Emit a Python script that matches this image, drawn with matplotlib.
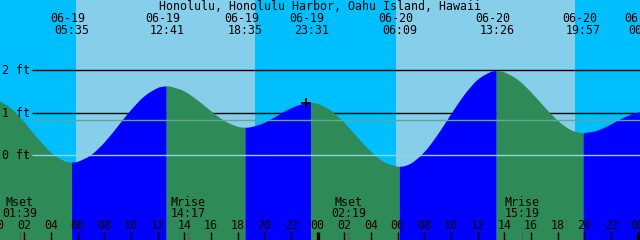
import matplotlib
matplotlib.use("Agg")
import matplotlib.pyplot as plt
from matplotlib.path import Path
from matplotlib.patches import PathPatch
from matplotlib.transforms import blended_transform_factory

# ---------------- data ----------------
title = "Honolulu, Honolulu Harbor, Oahu Island, Hawaii"

# hourly tide heights (ft), hours from 06-19 00:00
hourly_hours = list(range(0, 49))
hourly_heights = [1.295, 1.107, 0.780, 0.400, 0.065, -0.137, -0.155, 0.000, 0.295,
                  0.672, 1.060, 1.383, 1.580, 1.613, 1.505, 1.295, 1.041, 0.812,
                  0.673, 0.660, 0.760, 0.931, 1.105, 1.214, 1.210, 1.053, 0.768,
                  0.421, 0.086, -0.162, -0.268, -0.195, 0.069, 0.478, 0.955, 1.416,
                  1.772, 1.960, 1.953, 1.781, 1.489, 1.142, 0.820, 0.595, 0.520,
                  0.580, 0.724, 0.888, 1.000]

# tide extremes
event_dates = ["06-18", "06-19", "06-19", "06-19", "06-19", "06-20", "06-20", "06-20", "06-21"]
event_clock = ["23:30", "05:35", "12:41", "18:35", "23:31", "06:09", "13:26", "19:57", "00:36"]
event_heights = [1.32, -0.17, 1.62, 0.65, 1.23, -0.27, 1.98, 0.52, 1.02]

sun_dates = ["06-19", "06-19", "06-20", "06-20"]
sun_clock = ["05:53", "19:18", "05:53", "19:18"]
sun_kind = ["rise", "set", "rise", "set"]

moon_labels = ["Mset", "Mrise", "Mset", "Mrise"]
moon_dates = ["06-19", "06-19", "06-20", "06-20"]
moon_clock = ["01:39", "14:17", "02:19", "15:19"]

now_date, now_clock, now_height = "06-19", "23:09", 1.22

depth_levels = [0, 1, 2]
msl_level = 0.82

hour_tick_hours = list(range(0, 49, 2))
hour_tick_labels = ["%02d" % (h % 24) for h in hour_tick_hours]

# ---------------- helpers ----------------
day_offset = {"06-18": -24, "06-19": 0, "06-20": 24, "06-21": 48}


def to_hours(d, c):
    hh, mm = c.split(":")
    return day_offset[d] + int(hh) + int(mm) / 60.0


PX_PER_H = 640 / 48.0
X0 = -2.4  # pixel of 06-19 00:00
Y0FT = 155.3  # pixel row of 0 ft
PX_PER_FT = 42.5
xlim = ((0 - X0) / PX_PER_H, (640 - X0) / PX_PER_H)
ylim = ((Y0FT - 240) / PX_PER_FT, Y0FT / PX_PER_FT)


def px_to_h(x):
    return (x - X0) / PX_PER_H


def py(y):  # pixel row -> axes fraction
    return 1 - y / 240.0


SKY = "#87CEEB"
DEEP = "#00BFFF"
FLOOD = "#0000FF"
EBB = "#2E8B57"

fig = plt.figure(figsize=(6.4, 2.4), dpi=100)
ax = fig.add_axes([0, 0, 1, 1])
ax.set_xlim(*xlim)
ax.set_ylim(*ylim)
ax.axis("off")
trans = blended_transform_factory(ax.transData, ax.transAxes)
mono = {"family": "DejaVu Sans Mono", "size": 8.4}

# background night/day
ax.axvspan(xlim[0], xlim[1], color=DEEP, zorder=0, lw=0)
sun_h = [to_hours(d, c) for d, c in zip(sun_dates, sun_clock)]
for i, k in enumerate(sun_kind):
    if k == "rise":
        end = sun_h[i + 1] if i + 1 < len(sun_h) else xlim[1]
        ax.axvspan(sun_h[i], end, color=SKY, zorder=0.5, lw=0)

# depth lines 1, 2 ft (behind the tide)
xl = px_to_h(32)
for lv in depth_levels:
    if lv != 0:
        ax.plot([xl, xlim[1]], [lv, lv], color="black", lw=1.0, zorder=1,
                solid_capstyle="butt")
for lv in depth_levels:
    ax.text(2 / 640, py(Y0FT - lv * PX_PER_FT + 3.8), "%d ft" % lv, transform=ax.transAxes,
            ha="left", va="baseline", color="black", zorder=5, **mono)

# tide curve: smooth Bezier path through the read points
ev_h = [to_hours(d, c) for d, c in zip(event_dates, event_clock)]
pts = sorted(set(zip(hourly_hours, hourly_heights)) | set(zip(ev_h, event_heights)))
T = [p[0] for p in pts]
V = [p[1] for p in pts]
ev_set = set(ev_h)
slopes = []
for i in range(len(T)):
    if T[i] in ev_set:
        slopes.append(0.0)
    elif 0 < i < len(T) - 1:
        slopes.append((V[i + 1] - V[i - 1]) / (T[i + 1] - T[i - 1]))
    else:
        j = i + 1 if i == 0 else i - 1
        slopes.append((V[j] - V[i]) / (T[j] - T[i]))

for k in range(len(ev_h) - 1):
    a, b = ev_h[k], ev_h[k + 1]
    idx = [i for i in range(len(T)) if a <= T[i] <= b]
    verts = [(T[idx[0]], ylim[0] - 1), (T[idx[0]], V[idx[0]])]
    codes = [Path.MOVETO, Path.LINETO]
    for i0, i1 in zip(idx[:-1], idx[1:]):
        dt = T[i1] - T[i0]
        verts += [(T[i0] + dt / 3, V[i0] + slopes[i0] * dt / 3),
                  (T[i1] - dt / 3, V[i1] - slopes[i1] * dt / 3),
                  (T[i1], V[i1])]
        codes += [Path.CURVE4] * 3
    verts += [(T[idx[-1]], ylim[0] - 1), (T[idx[0]], ylim[0] - 1)]
    codes += [Path.LINETO, Path.CLOSEPOLY]
    col = FLOOD if event_heights[k + 1] > event_heights[k] else EBB
    ax.add_patch(PathPatch(Path(verts, codes), facecolor=col, edgecolor="none",
                           lw=0, zorder=2))

# datum and MSL lines
ax.plot([xl, xlim[1]], [0, 0], color="#8FD6DC", lw=1.0, zorder=3, solid_capstyle="butt")
ax.plot([xl, xlim[1]], [msl_level, msl_level], color="#5FAA96", lw=1.0, zorder=3,
        solid_capstyle="butt")

# now marker
ax.plot([to_hours(now_date, now_clock)], [now_height], marker="+", color="black",
        ms=7, mew=1.3, zorder=4)

# title and event labels
ax.text(0.5, py(9.6), title, transform=ax.transAxes, ha="center", va="baseline",
        color="black", zorder=5, **mono)
for d, c, t in zip(event_dates, event_clock, ev_h):
    if t < xlim[0]:
        continue
    ax.text(t - 4.0 / PX_PER_H, py(21.6), d, transform=trans, ha="center", va="baseline",
            color="black", zorder=5, clip_on=True, **mono)
    ax.text(t, py(34.2), c, transform=trans, ha="center", va="baseline",
            color="black", zorder=5, clip_on=True, **mono)

# moon labels and ticks
for lab, d, c in zip(moon_labels, moon_dates, moon_clock):
    t = to_hours(d, c)
    ax.text(t, py(205.8), lab, transform=trans, ha="center", va="baseline",
            color="black", zorder=5, **mono)
    ax.text(t, py(217.4), c, transform=trans, ha="center", va="baseline",
            color="black", zorder=5, **mono)
    ax.plot([t, t], [py(232), py(240)], transform=trans, color="#5a5a5a", lw=1.0,
            zorder=4, solid_capstyle="butt")

# hour ticks and labels
for h, lab in zip(hour_tick_hours, hour_tick_labels):
    ax.text(h, py(229.4), lab, transform=trans, ha="center", va="baseline",
            color="black", zorder=5, clip_on=True, **mono)
    lw = 2.4 if h % 24 == 0 else 1.0
    ax.plot([h, h], [py(232), py(240)], transform=trans, color="black", lw=lw,
            zorder=4, solid_capstyle="butt")

fig.savefig("out.png", dpi=100)
